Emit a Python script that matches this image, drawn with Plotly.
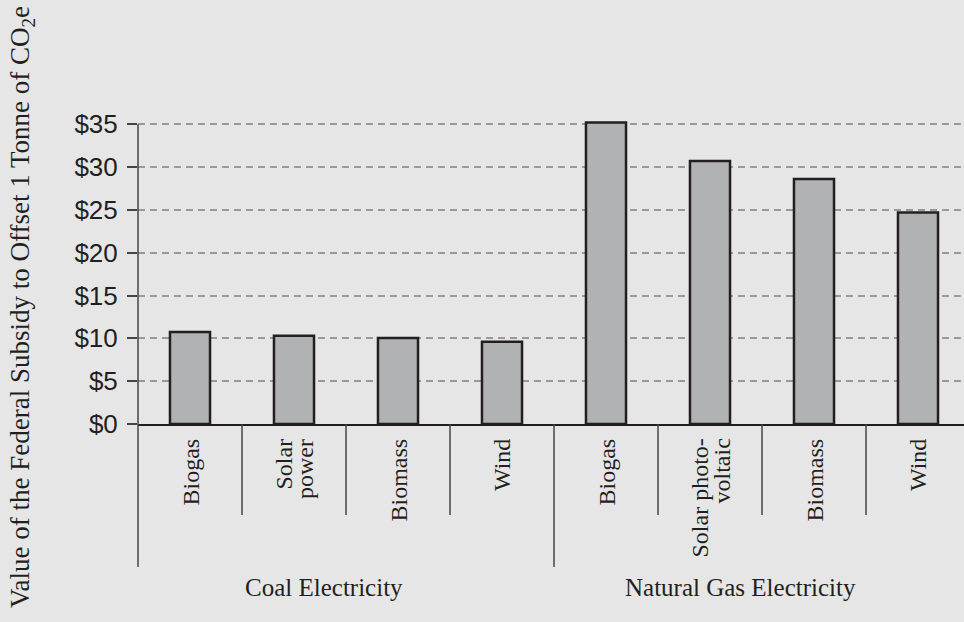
import plotly.graph_objects as go

# ---- data ----
groups = ["Coal Electricity", "Natural Gas Electricity"]
categories = ["Biogas", "Solar<br>power", "Biomass", "Wind",
              "Biogas", "Solar photo-<br>voltaic", "Biomass", "Wind"]
category_group = [0, 0, 0, 0, 1, 1, 1, 1]
values = [10.75, 10.3, 10.05, 9.6, 35.2, 30.7, 28.6, 24.7]
tick_values = [0, 5, 10, 15, 20, 25, 30, 35]
tick_labels = ["$0", "$5", "$10", "$15", "$20", "$25", "$30", "$35"]
y_title = "Value of the Federal Subsidy to Offset 1 Tonne of CO<sub>2</sub>e"

# ---- layout geometry ----
W, H = 964, 622
ML, MR, MT, MB = 138, 0, 100, 198
plot_w = W - ML - MR
plot_h = H - MT - MB
cat_px = 104.0
x_range = [-0.5, -0.5 + plot_w / cat_px]
y_px_per_unit = 8.563
y_range = [0, plot_h / y_px_per_unit]

BG = "#e6e6e6"
INK = "#231f20"
SERIF = "Liberation Serif, Times New Roman, serif"
SANS = "Liberation Sans, Arial, sans-serif"

xs = list(range(len(categories)))


def px_below(p):
    """paper y for p pixels below the x axis"""
    return -p / plot_h


def paper_x(xv):
    return (xv - x_range[0]) / (x_range[1] - x_range[0])


fig = go.Figure()
fig.add_trace(go.Bar(
    x=xs, y=values,
    marker=dict(color="#b0b2b4", line=dict(color=INK, width=2.5)),
    width=0.385,
    hoverinfo="skip",
))

shapes = []
# y axis line (0..35)
shapes.append(dict(type="line", xref="paper", yref="y", x0=0, x1=0,
                   y0=0, y1=max(tick_values), line=dict(color="#444", width=1.5)))
# dividers below the axis
n = len(categories)
for b in range(n + 1):
    xb = b - 0.5
    if not (x_range[0] - 1e-9 <= xb <= x_range[1]):
        continue
    is_group_edge = (b == 0 or b == n or category_group[b] != category_group[b - 1])
    depth = 143 if is_group_edge else 91
    shapes.append(dict(type="line", xref="paper", yref="paper",
                       x0=paper_x(xb), x1=paper_x(xb), y0=0, y1=px_below(depth),
                       line=dict(color="#444", width=1.5)))

annotations = []
# category labels (rotated)
for i, lab in enumerate(categories):
    lines = lab.split("<br>")
    k = len(lines)
    for j, ln in enumerate(lines):
        annotations.append(dict(
            x=i, xref="x", y=px_below(13), yref="paper",
            text=ln, textangle=-90, showarrow=False,
            xanchor="center", yanchor="top",
            xshift=(j - (k - 1) / 2) * 22,
            font=dict(family=SERIF, size=24, color=INK),
        ))
# group labels
for g, name in enumerate(groups):
    idx = [i for i, c in enumerate(category_group) if c == g]
    centre = sum(idx) / len(idx)
    annotations.append(dict(
        x=centre, xref="x", y=px_below(163), yref="paper",
        text=name, showarrow=False, xanchor="center", yanchor="middle",
        xshift=-22,
        font=dict(family=SERIF, size=25, color=INK),
    ))
# y title (centred ~117 px above the x axis)
annotations.append(dict(
    x=(22 - ML) / plot_w, xref="paper", y=117 / plot_h, yref="paper",
    text=y_title, textangle=-90, showarrow=False,
    xanchor="center", yanchor="middle",
    font=dict(family=SERIF, size=27, color=INK),
))

fig.update_layout(
    width=W, height=H,
    margin=dict(l=ML, r=MR, t=MT, b=MB),
    paper_bgcolor=BG, plot_bgcolor=BG,
    showlegend=False,
    bargap=0.6,
    xaxis=dict(range=x_range, showticklabels=False, ticks="", showgrid=False,
               zeroline=False, showline=True, linecolor=INK, linewidth=1.5),
    yaxis=dict(range=y_range, tickmode="array", tickvals=tick_values, ticktext=tick_labels,
               ticks="outside", ticklen=10, tickwidth=1.5, tickcolor="#444",
               ticklabelstandoff=4,
               tickfont=dict(family=SANS, size=26, color=INK),
               showgrid=True, gridcolor="#9a9a9a", gridwidth=1.5, griddash="7px,5px",
               zeroline=False, showline=False),
    shapes=shapes,
    annotations=annotations,
)

fig.write_html("out.html")
